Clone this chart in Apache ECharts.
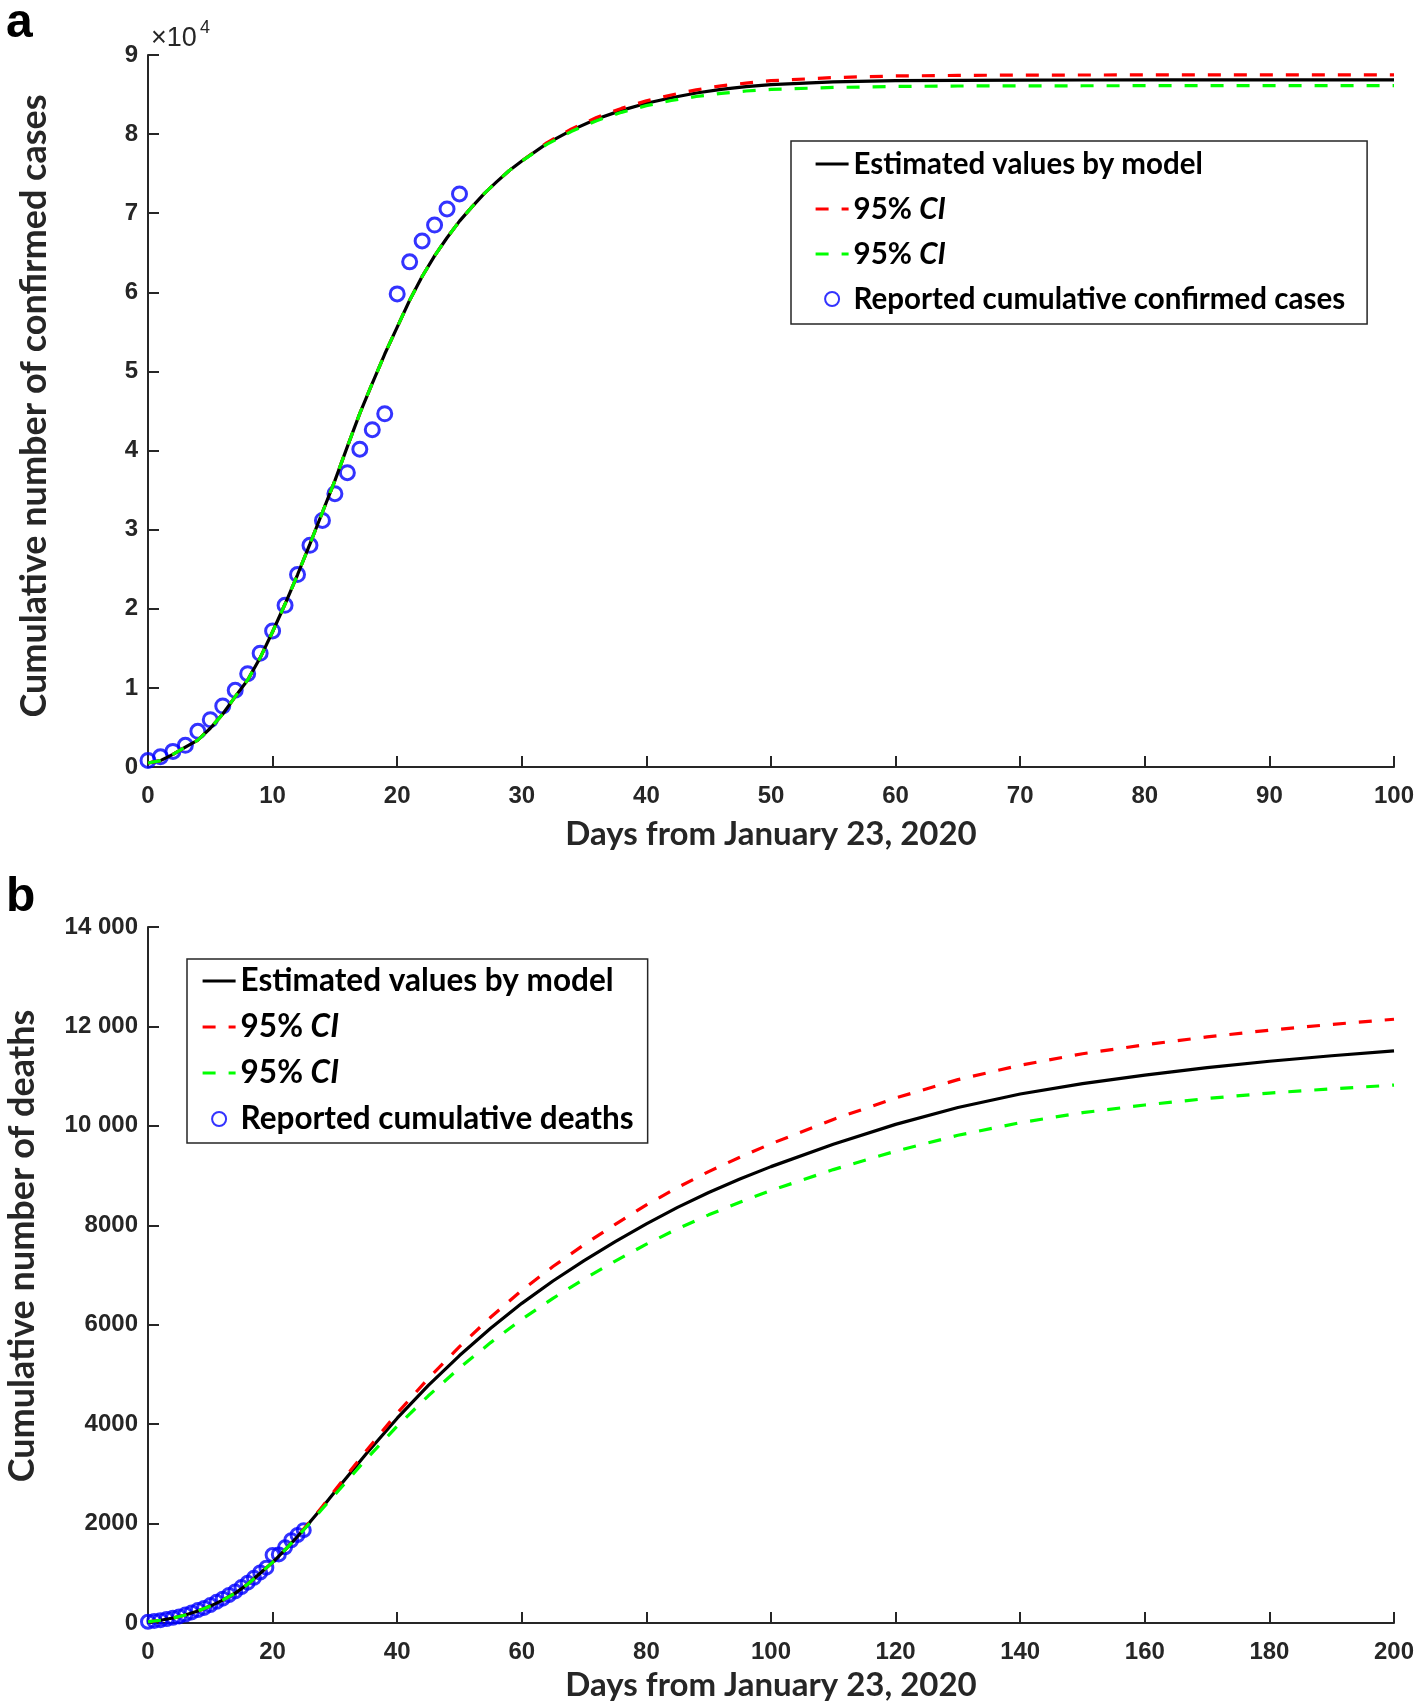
<!DOCTYPE html>
<html>
<head>
<meta charset="utf-8">
<script src="https://cdn.jsdelivr.net/npm/echarts@6/dist/echarts.min.js"></script>
<style>html,body{margin:0;padding:0;background:#fff;}#c{width:1418px;height:1707px;}</style>
</head>
<body>
<div id="c"></div>
<script>
// ---------- Panel a: cumulative confirmed cases ----------
const daysA = [0,1,2,3,4,5,6,7,8,9,10,11,12,13,14,15,16,17,18,19,20,21,22,23,24,25,26,27,28,29,30,
  32,34,36,38,40,42,44,46,48,50,55,60,65,70,75,80,85,90,95,100];
const modelA = [500,800,1600,2500,3400,4900,6700,8900,11000,13800,17100,20600,24300,28200,32200,36200,40500,44700,48500,52200,55600,59000,62000,64600,66900,69000,70800,72500,74000,75400,76600,
  78800,80500,81900,83000,83900,84600,85200,85650,86000,86250,86600,86750,86800,86830,86840,86850,86850,86850,86850,86850];
const upperA = [500,800,1600,2500,3400,4900,6700,8900,11000,13800,17100,20600,24300,28200,32200,36200,40500,44700,48500,52200,55600,59000,62000,64600,66900,69000,70800,72500,74000,75400,76600,
  78900,80650,82100,83250,84200,84950,85600,86100,86450,86750,87150,87350,87420,87460,87470,87480,87480,87480,87480,87480];
const lowerA = [500,800,1600,2500,3400,4900,6700,8900,11000,13800,17100,20600,24300,28200,32200,36200,40500,44700,48500,52200,55600,59000,62000,64600,66900,69000,70800,72500,74000,75400,76600,
  78700,80350,81700,82750,83600,84250,84750,85150,85450,85650,85900,86020,86080,86100,86110,86120,86120,86120,86120,86120];
const daysRep = [0,1,2,3,4,5,6,7,8,9,10,11,12,13,14,15,16,17,18,19,20,21,22,23,24,25];
const reportedCases = [830,1287,1975,2744,4515,5974,7711,9692,11791,14380,17205,20438,24324,28018,31161,34546,37198,40171,42638,44653,59804,63851,66492,68500,70548,72436];
const ticksA_x = [0,100,10];   // min, max, interval
const ticksA_y = [0,90000,10000];

// ---------- Panel b: cumulative deaths ----------
const daysB = [0,2,4,6,8,10,12,14,16,18,20,22,24,26,28,30,
  35,40,45,50,55,60,65,70,75,80,85,90,95,100,
  110,120,130,140,150,160,170,180,190,200];
const modelB = [25,55,100,160,240,340,460,600,780,1000,1220,1470,1740,2030,2330,2640,
  3400,4120,4780,5380,5930,6430,6880,7290,7670,8030,8360,8660,8930,9180,
  9630,10030,10370,10640,10850,11020,11170,11300,11410,11510];
const upperB = [25,55,100,160,240,340,460,600,780,1000,1220,1470,1745,2040,2345,2670,
  3460,4220,4920,5560,6150,6690,7170,7610,8020,8410,8760,9080,9370,9640,
  10130,10560,10930,11220,11450,11630,11790,11925,12040,12145];
const lowerB = [25,55,100,160,240,340,460,600,780,1000,1220,1470,1735,2015,2300,2580,
  3290,3960,4570,5130,5640,6110,6530,6920,7280,7620,7930,8210,8465,8700,
  9120,9490,9810,10065,10265,10420,10550,10660,10745,10820];
const reportedDeaths = [25,41,56,80,106,132,170,213,259,304,361,425,490,563,636,722,811,908,1016,1113,1368,1380,1523,1665,1770,1868];
const ticksB_x = [0,200,20];
const ticksB_y = [0,14000,2000];

const legendNames = {
  est_a: 'Estimated values by model', up_a: 'CI', lo_a: 'CI', rep_a: 'Reported cumulative confirmed cases',
  est_b: 'Estimated values by model', up_b: 'CI', lo_b: 'CI', rep_b: 'Reported cumulative deaths'
};

function zip(xs, ys){ return xs.map((x,i)=>[x, ys[i]]); }

const AX = '#262626';
const tickFont = {fontFamily:'Liberation Sans', fontWeight:'bold', fontSize:24, color:AX};
function xAxisCfg(g, t){
  return {type:'value', gridIndex:g, min:t[0], max:t[1], interval:t[2],
    axisLine:{show:true, onZero:false, lineStyle:{color:AX, width:2}},
    axisTick:{show:true, inside:true, length:11, lineStyle:{color:AX, width:2}},
    splitLine:{show:false},
    axisLabel:Object.assign({margin:17}, tickFont)};
}
function yAxisCfg(g, t, fmt){
  return {type:'value', gridIndex:g, min:t[0], max:t[1], interval:t[2],
    axisLine:{show:true, onZero:false, lineStyle:{color:AX, width:2}},
    axisTick:{show:true, inside:true, length:11, lineStyle:{color:AX, width:2}},
    splitLine:{show:false},
    axisLabel:Object.assign({margin:10, formatter:fmt}, tickFont)};
}
function lineSeries(name, g, xs, ys, color, dashed){
  return {type:'line', name:name, xAxisIndex:g, yAxisIndex:g, data:zip(xs, ys),
    symbol:'none', smooth:false, silent:true,
    lineStyle:{color:color, width:3.2, type: dashed ? [13,13] : 'solid'},
    itemStyle:{color:color}};
}
function scatterSeries(name, g, xs, ys, size){
  return {type:'scatter', name:name, xAxisIndex:g, yAxisIndex:g, data:zip(xs, ys),
    symbol:'circle', symbolSize:size, silent:true,
    itemStyle:{color:'rgba(0,0,0,0)', borderColor:'#0000ff', borderWidth:3}};
}
function legendCfg(left, top, padding, names, fs, lh, gap){
  const rich = {n:{fontFamily:'Lato', fontWeight:'bold', fontSize:fs, color:'#000', lineHeight:lh},
                i:{fontFamily:'Lato', fontWeight:'bold', fontStyle:'italic', fontSize:fs, color:'#000', lineHeight:lh}};
  return {left:left, top:top, orient:'vertical', padding:padding, itemGap:gap,
    itemWidth:33, itemHeight:14, selectedMode:false,
    borderColor:AX, borderWidth:1.5, backgroundColor:'#fff',
    lineStyle:{width:3.2},
    data:names.map((n, k) => k < 3 ? {name:n, itemStyle:{opacity:0}} : {name:n}),
    formatter:function(n){ const t = legendNames[n]; return t === 'CI' ? '{n|95% }{i|CI}' : '{n|' + t + '}'; },
    textStyle:{fontFamily:'Lato', fontWeight:'bold', fontSize:fs, color:'#000', lineHeight:lh, rich:rich}};
}
function fmtB(v){ return v >= 10000 ? String(Math.floor(v/1000)) + ' ' + String(v % 1000).padStart(3,'0') : String(v); }

const xTitleFont = 'bold 33px Lato';
const yTitleFont = 'bold 36px Lato';
const chart = echarts.init(document.getElementById('c'), null, {renderer:'canvas'});
chart.setOption({
  animation:false,
  backgroundColor:'#fff',
  grid:[
    {left:148, top:55, width:1246, height:712, outerBoundsMode:'none', containLabel:false},
    {left:148, top:927, width:1246, height:696, outerBoundsMode:'none', containLabel:false}
  ],
  xAxis:[xAxisCfg(0, ticksA_x), xAxisCfg(1, ticksB_x)],
  yAxis:[yAxisCfg(0, ticksA_y, v => String(v/10000)), yAxisCfg(1, ticksB_y, fmtB)],
  legend:[
    legendCfg(791, 141, [6,22,8,23], ['est_a','up_a','lo_a','rep_a'], 29.5, 34, 11),
    legendCfg(187, 959, [4,14,6,14], ['est_b','up_b','lo_b','rep_b'], 31.5, 36, 10)
  ],
  series:[
    lineSeries('est_a', 0, daysA, modelA, '#000000', false),
    lineSeries('up_a', 0, daysA, upperA, '#ff0000', true),
    lineSeries('lo_a', 0, daysA, lowerA, '#00ff00', true),
    scatterSeries('rep_a', 0, daysRep, reportedCases, 14),
    lineSeries('est_b', 1, daysB, modelB, '#000000', false),
    lineSeries('up_b', 1, daysB, upperB, '#ff0000', true),
    lineSeries('lo_b', 1, daysB, lowerB, '#00ff00', true),
    scatterSeries('rep_b', 1, daysRep, reportedDeaths, 13)
  ],
  graphic:[
    {type:'text', left:6, top:0, style:{text:'a', font:'bold 48px Liberation Sans', fill:'#000'}},
    {type:'text', left:6, top:874, style:{text:'b', font:'bold 48px Liberation Sans', fill:'#000'}},
    {type:'text', left:151, top:25, style:{text:'×10', font:'27px Liberation Sans', fill:AX}},
    {type:'text', left:200, top:19, style:{text:'4', font:'18px Liberation Sans', fill:AX}},
    {type:'text', x:771, y:834, style:{text:'Days from January 23, 2020', font:xTitleFont, fill:AX, textAlign:'center', textVerticalAlign:'middle', align:'center', verticalAlign:'middle'}},
    {type:'text', x:771, y:1685, style:{text:'Days from January 23, 2020', font:xTitleFont, fill:AX, textAlign:'center', textVerticalAlign:'middle', align:'center', verticalAlign:'middle'}},
    {type:'text', x:34, y:406, rotation:Math.PI/2, style:{text:'Cumulative number of confirmed cases', font:yTitleFont, fill:AX, textAlign:'center', textVerticalAlign:'middle', align:'center', verticalAlign:'middle'}},
    {type:'text', x:22, y:1246, rotation:Math.PI/2, style:{text:'Cumulative number of deaths', font:yTitleFont, fill:AX, textAlign:'center', textVerticalAlign:'middle', align:'center', verticalAlign:'middle'}}
  ]
});
</script>
</body>
</html>
